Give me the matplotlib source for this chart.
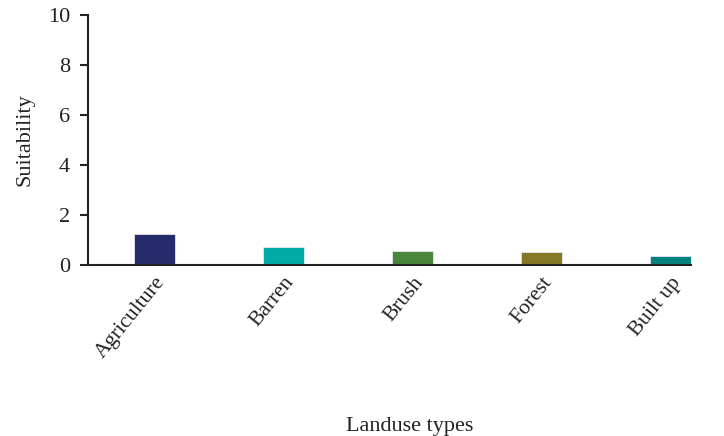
import matplotlib.pyplot as plt

landuse = ["Agriculture", "Barren", "Brush", "Forest", "Built up"]
suitability = [1.23, 0.73, 0.57, 0.51, 0.37]
bar_colors = ["#262c6b", "#00aba6", "#4a873b", "#847826", "#00837e"]
y_ticks = [0, 2, 4, 6, 8, 10]

plt.rcParams["font.family"] = ["Liberation Serif", "DejaVu Serif"]

fig = plt.figure(figsize=(7.24, 4.36), dpi=100)
ax = fig.add_axes([88 / 724, 1 - 265 / 436, (691 - 88) / 724, 250 / 436])

x = list(range(len(landuse)))
ax.bar(x, suitability, width=0.32, color=bar_colors, edgecolor="#e6e6f0", linewidth=0.6)

ax.set_xlim(-0.515, 4.16)
ax.set_ylim(0, 10)
ax.set_yticks(y_ticks)
ax.set_xticks(x)
ax.set_xticklabels(landuse, rotation=51, ha="right", rotation_mode="anchor", fontsize=15.5, color="#222222")
ax.tick_params(axis="x", length=0, pad=6)
ax.tick_params(axis="y", length=6, width=1.5, pad=7, labelsize=16, colors="#222222")

for side in ["top", "right"]:
    ax.spines[side].set_visible(False)
ax.spines["left"].set_linewidth(1.5)
ax.spines["bottom"].set_linewidth(1.5)
ax.spines["left"].set_color("#222222")
ax.spines["bottom"].set_color("#222222")

ax.set_ylabel("Suitability", fontsize=16, color="#222222")
ax.yaxis.set_label_coords(-(88 - 35) / 603, 0.5)
ax.set_xlabel("Landuse types", fontsize=16, color="#222222")
ax.xaxis.set_label_coords((410 - 88) / 603, -(417 - 265) / 250)

fig.savefig("out.png", dpi=100)
